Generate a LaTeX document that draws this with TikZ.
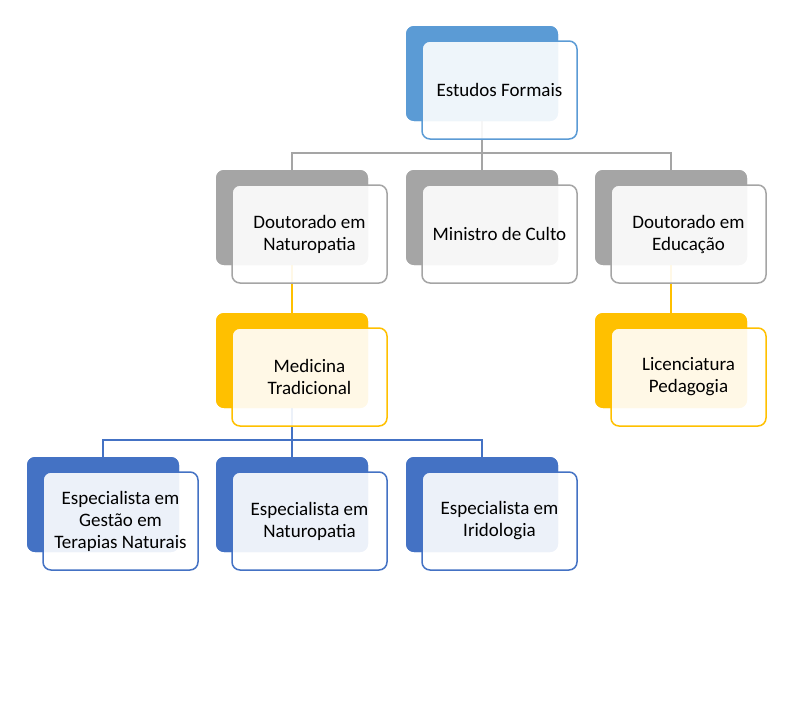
\documentclass[tikz,border=0pt]{standalone}
\usepackage{fontspec}
\setmainfont{Carlito}
\definecolor{cTop}{HTML}{5B9BD5}
\definecolor{cGray}{HTML}{A5A5A5}
\definecolor{cGold}{HTML}{FFC000}
\definecolor{cBlue}{HTML}{4472C4}
\begin{document}
\begin{tikzpicture}[x=1pt,y=-1pt,
  backbox/.style={draw=none,fill=#1,rounded corners=8pt,minimum width=152pt,minimum height=95pt,inner sep=0pt},
  frontbox/.style={draw=#1,line width=1.5pt,fill=white,fill opacity=0.9,text opacity=1,rounded corners=8pt,minimum width=155pt,minimum height=98pt,inner sep=0pt,align=center,font=\fontsize{19}{22}\selectfont},
  conn/.style={draw=#1,line width=2pt}]
\useasboundingbox (0,0) rectangle (796,718);
% coordinates of joints
\coordinate (j1) at (482,153);
\coordinate (j2) at (292,440);
% back boxes (positions)
\path (482,73.5) node[backbox=cTop] (ef) {};
\path (292,217.5) node[backbox=cGray] (dn) {};
\path (482,217.5) node[backbox=cGray] (mc) {};
\path (671,217.5) node[backbox=cGray] (de) {};
\path (292,360.5) node[backbox=cGold] (mt) {};
\path (671,360.5) node[backbox=cGold] (lp) {};
\path (103,504.5) node[backbox=cBlue] (eg) {};
\path (292,504.5) node[backbox=cBlue] (en) {};
\path (482,504.5) node[backbox=cBlue] (ei) {};
% connectors (behind boxes)
\begin{scope}[on background layer/.try]
\end{scope}
\draw[conn=cGray] (ef.south) -- (j1);
\draw[conn=cGray] (j1) -| (dn.north);
\draw[conn=cGray] (j1) -- (mc.north);
\draw[conn=cGray] (j1) -| (de.north);
\draw[conn=cGold] (dn.south) -- (mt.north);
\draw[conn=cGold] (de.south) -- (lp.north);
\draw[conn=cBlue] (mt.south) -- (j2);
\draw[conn=cBlue] (j2) -| (eg.north);
\draw[conn=cBlue] (j2) -- (en.north);
\draw[conn=cBlue] (j2) -| (ei.north);
% redraw back boxes over connectors
\path (ef.center) node[backbox=cTop] {};
\path (dn.center) node[backbox=cGray] {};
\path (mc.center) node[backbox=cGray] {};
\path (de.center) node[backbox=cGray] {};
\path (mt.center) node[backbox=cGold] {};
\path (lp.center) node[backbox=cGold] {};
\path (eg.center) node[backbox=cBlue] {};
\path (en.center) node[backbox=cBlue] {};
\path (ei.center) node[backbox=cBlue] {};
% front boxes
\node[frontbox=cTop]  (eff) at ([shift={(17.5,16.5)}]ef.center) {Estudos Formais};
\node[frontbox=cGray] (dnf) at ([shift={(17.5,16.5)}]dn.center) {Doutorado em\\Naturopatia};
\node[frontbox=cGray] (mcf) at ([shift={(17.5,16.5)}]mc.center) {Ministro de Culto};
\node[frontbox=cGray] (def) at ([shift={(17.5,16.5)}]de.center) {Doutorado em\\Educação};
\node[frontbox=cGold] (mtf) at ([shift={(17.5,16.5)}]mt.center) {Medicina\\Tradicional};
\node[frontbox=cGold] (lpf) at ([shift={(17.5,16.5)}]lp.center) {Licenciatura\\Pedagogia};
\node[frontbox=cBlue] (egf) at ([shift={(17.5,16.5)}]eg.center) {Especialista em\\Gestão em\\Terapias Naturais};
\node[frontbox=cBlue] (enf) at ([shift={(17.5,16.5)}]en.center) {Especialista em\\Naturopatia};
\node[frontbox=cBlue] (eif) at ([shift={(17.5,16.5)}]ei.center) {Especialista em\\Iridologia};
\end{tikzpicture}
\end{document}
